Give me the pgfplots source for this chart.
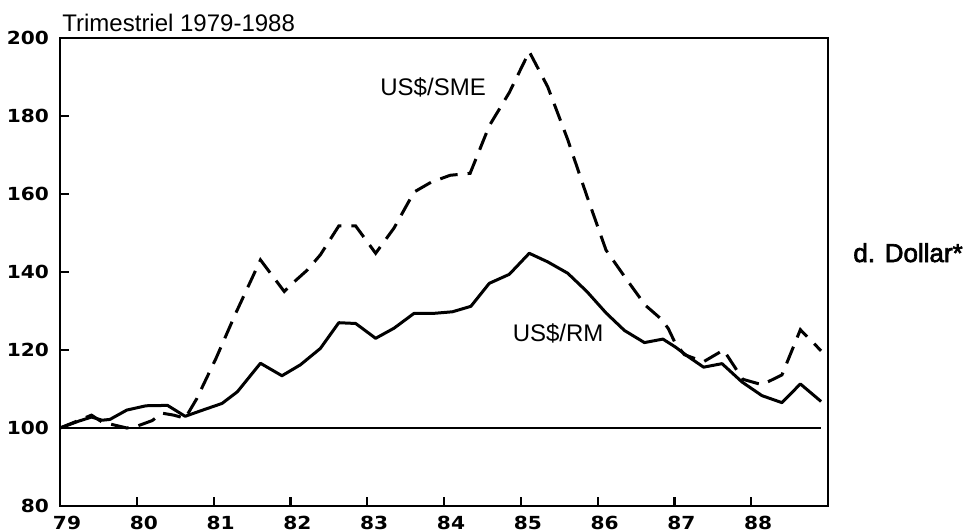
\documentclass[border=0pt]{standalone}
\usepackage{pgfplots}
\pgfplotsset{compat=1.18}
\usepackage{fontspec}
\setmainfont{Liberation Sans}
\newfontfamily\tickfont[FakeStretch=1.12]{DejaVu Sans}
\newfontfamily\dollarfont[FakeBold=2.5]{Liberation Sans}
\begin{document}
\begin{tikzpicture}
\begin{axis}[
  scale only axis,
  width=384pt, height=234pt,
  xmin=79, xmax=89, ymin=80, ymax=200,
  xtick={79,80,81,82,83,84,85,86,87,88},
  ytick={80,100,120,140,160,180,200},
  xticklabels={79,80,81,82,83,84,85,86,87,88},
  tick align=inside,
  xtick pos=bottom, ytick pos=left,
  major tick length=4.5pt,
  tick style={line width=1.1pt, black},
  axis line style={line width=1.3pt},
  /pgf/number format/assume math mode=true,
  tick label style={font=\tickfont\bfseries\fontsize{9}{10}\selectfont},
  xticklabel style={anchor=north, xshift=3.5pt, yshift=-1.6pt},
  yticklabel style={anchor=east, xshift=-2pt},
  clip=false,
]
\addplot[black, line width=1.2pt] coordinates {(79,100) (88.91,100)};
% US$/RM (solid)
\addplot[black, line width=1.5pt, line join=round] coordinates {
(79.00,100.0) (79.25,101.8) (79.41,102.8) (79.55,102.0) (79.65,102.2)
(79.87,104.6) (80.12,105.7) (80.40,105.8) (80.63,103.0) (80.83,104.4)
(81.11,106.3) (81.31,109.3) (81.61,116.6) (81.89,113.4) (82.13,116.2)
(82.39,120.4) (82.63,127.0) (82.85,126.8) (83.11,123.0) (83.35,125.6)
(83.61,129.4) (83.87,129.4) (84.11,129.8) (84.35,131.2) (84.59,137.1)
(84.85,139.4) (85.11,144.8) (85.35,142.6) (85.61,139.7) (85.86,135.0)
(86.11,129.5) (86.35,125.0) (86.61,121.9) (86.85,122.8) (87.01,120.8)
(87.18,118.3) (87.38,115.6) (87.62,116.5) (87.88,111.8) (88.14,108.3)
(88.40,106.5) (88.64,111.3) (88.91,106.8)
};
% US$/SME (dashed)
\addplot[black, line width=1.5pt, dash pattern=on 9pt off 5pt] coordinates {
(79.00,100.0) (79.25,102.0) (79.41,103.3) (79.55,101.5) (79.87,100.0)
(80.02,100.6) (80.20,101.9) (80.33,103.8) (80.48,103.3) (80.63,102.5)
(80.78,107.5) (81.03,117.8) (81.29,129.5) (81.50,138.4) (81.61,143.1)
(81.92,135.0) (82.05,137.5) (82.22,140.5) (82.39,144.4) (82.63,151.8)
(82.85,151.8) (83.11,144.8) (83.35,151.3) (83.61,160.5) (83.83,163.0)
(84.08,164.8) (84.34,165.3) (84.59,177.5) (84.85,186.0) (85.11,196.5)
(85.35,187.5) (85.61,174.0) (85.86,159.5) (86.11,145.6) (86.37,138.3)
(86.62,131.5) (86.83,127.9) (86.92,125.5) (87.01,121.8) (87.13,118.8)
(87.38,117.0) (87.64,120.0) (87.89,112.5) (88.14,111.1) (88.40,113.6)
(88.64,125.2) (88.91,119.8)
};
\end{axis}
\node[anchor=base west, inner sep=0, font=\fontsize{12}{14}\selectfont] at (1pt,237pt) {Trimestriel 1979-1988};
\node[anchor=base west, inner sep=0, font=\fontsize{12}{14}\selectfont] at (160pt,205.2pt) {US\$/SME};
\node[anchor=base west, inner sep=0, font=\fontsize{12}{14}\selectfont] at (226.2pt,82.2pt) {US\$/RM};
\node[anchor=base west, inner sep=0, font=\dollarfont\fontsize{13}{15}\selectfont] at (396.5pt,122pt) {d. Dollar*};
\pgfresetboundingbox
\path (-30pt,-12.5pt) rectangle (453.5pt,253pt);
\end{tikzpicture}
\end{document}
